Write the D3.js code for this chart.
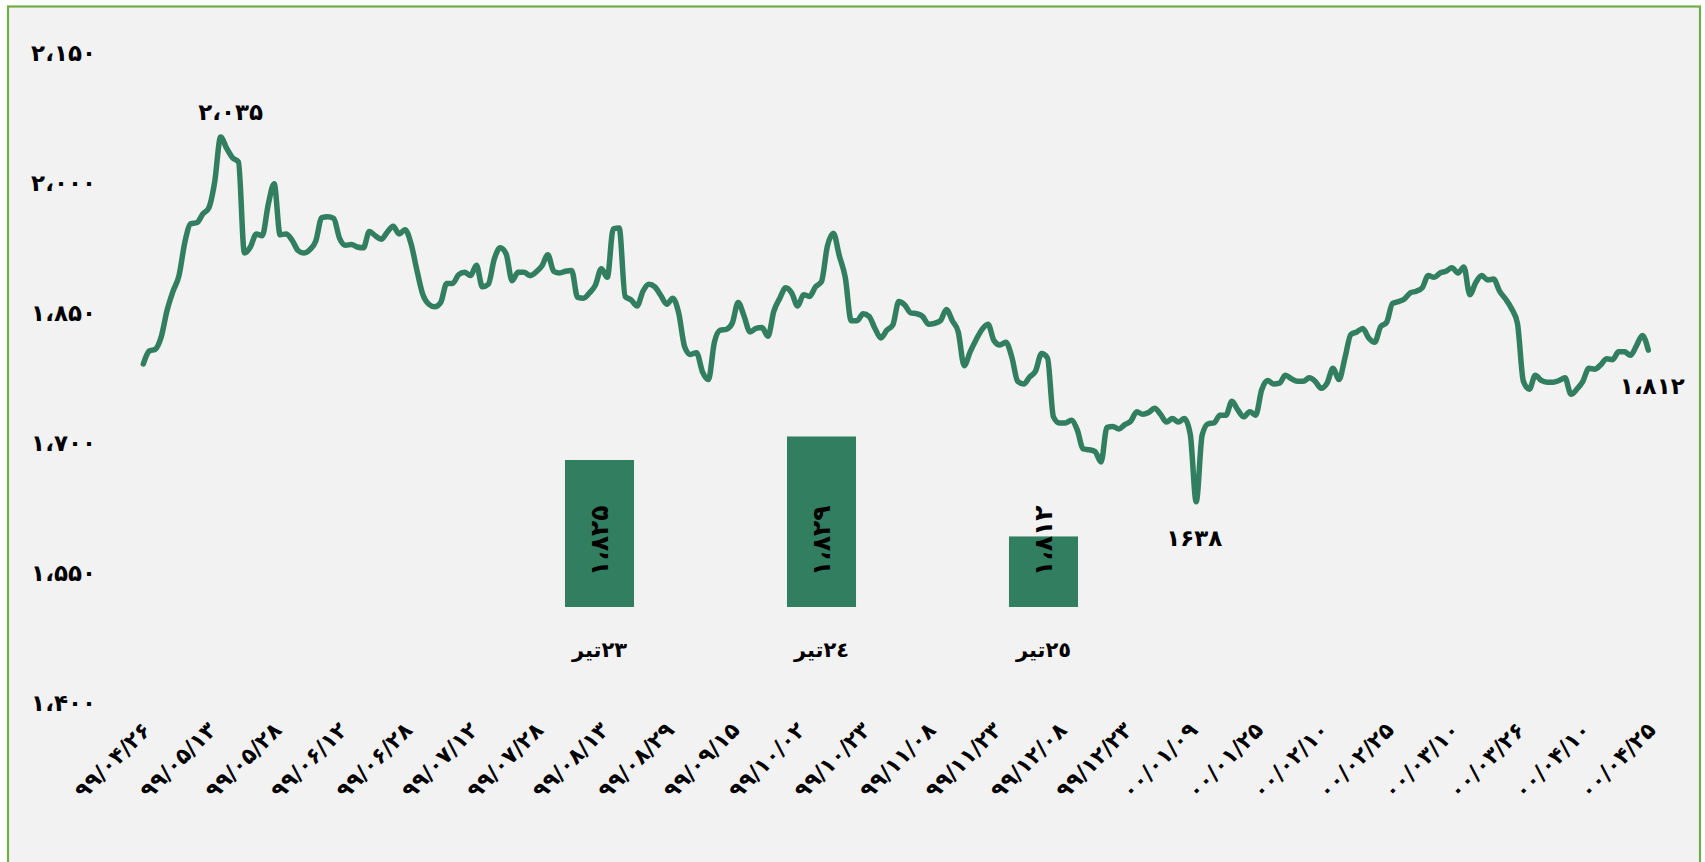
<!DOCTYPE html>
<html><head><meta charset="utf-8">
<script src="https://cdn.jsdelivr.net/npm/d3@7/dist/d3.min.js"></script>
<style>
html,body{margin:0;padding:0;background:#ffffff;}
svg{display:block;font-family:"DejaVu Sans",sans-serif;}
</style></head><body>
<svg id="chart" width="1705" height="862"></svg>
<script>
// daily index value (trading days)
const prices = [
1790,1805,1807,1821,1852,1874,1892,1931,1952,1953,1963,1970,2000,2052,2039,2028,2023,1918,1925,1940,
1938,1974,1998,1939,1940,1933,1921,1918,1922,1932,1959,1960,1958,1935,1927,1928,1925,1924,1943,1938,
1934,1942,1949,1940,1945,1929,1898,1870,1859,1856,1861,1883,1883,1893,1896,1892,1904,1879,1882,1911,
1924,1917,1886,1896,1896,1892,1896,1903,1916,1897,1895,1897,1898,1867,1866,1872,1881,1900,1890,1946,
1947,1868,1864,1857,1874,1882,1879,1869,1859,1866,1849,1810,1801,1803,1781,1772,1815,1829,1830,1837,
1861,1845,1827,1831,1832,1822,1851,1866,1878,1872,1857,1870,1868,1879,1885,1926,1941,1915,1890,1840,
1840,1848,1845,1831,1820,1829,1835,1862,1858,1849,1848,1845,1836,1837,1840,1853,1840,1827,1788,1804,
1818,1830,1836,1817,1812,1815,1798,1770,1767,1775,1782,1802,1797,1729,1722,1722,1725,1714,1692,1691,
1689,1677,1717,1718,1715,1720,1724,1735,1732,1734,1739,1732,1723,1727,1723,1727,1709,1631,1708,1721,
1722,1731,1731,1747,1737,1729,1735,1731,1760,1771,1767,1768,1777,1773,1770,1770,1774,1770,1762,1768,
1785,1772,1797,1824,1827,1831,1820,1815,1833,1838,1860,1862,1865,1872,1874,1878,1892,1890,1895,1897,
1901,1895,1902,1870,1884,1892,1887,1888,1874,1865,1854,1837,1770,1761,1777,1771,1769,1769,1771,1774,
1755,1761,1770,1785,1784,1789,1796,1795,1804,1804,1800,1811,1823,1806
];
const tickStep = 11;
const dateLabels = [
"۹۹/۰۴/۲۶","۹۹/۰۵/۱۳","۹۹/۰۵/۲۸","۹۹/۰۶/۱۲","۹۹/۰۶/۲۸","۹۹/۰۷/۱۲","۹۹/۰۷/۲۸","۹۹/۰۸/۱۳",
"۹۹/۰۸/۲۹","۹۹/۰۹/۱۵","۹۹/۱۰/۰۲","۹۹/۱۰/۲۳","۹۹/۱۱/۰۸","۹۹/۱۱/۲۳","۹۹/۱۲/۰۸","۹۹/۱۲/۲۳",
"۰۰/۰۱/۰۹","۰۰/۰۱/۲۵","۰۰/۰۲/۱۰","۰۰/۰۲/۲۵","۰۰/۰۳/۱۰","۰۰/۰۳/۲۶","۰۰/۰۴/۱۰","۰۰/۰۴/۲۵"
];
const yTicks = [1400, 1550, 1700, 1850, 2000, 2150];
// inset bars
const barCategories = ["٢٣تیر", "٢٤تیر", "٢٥تیر"];
const barValues = [1825, 1829, 1812];
const barBase = 1800;
// annotations: trading-day index and the label shown
const annDays = [13, 177, 253];
const annTexts = ["۲،۰۳۵", "۱۶۳۸", "۱،۸۱۲"];

const fa = s => String(s).replace(/\d/g, d => "۰۱۲۳۴۵۶۷۸۹"[+d]).replace(/,/g, "،");
const fmt = v => fa(d3.format(",")(v));

const COLOR = "#327E61";
const svg = d3.select("#chart");

// frame
svg.append("rect").attr("x", 8).attr("y", 6.5).attr("width", 1692).attr("height", 900)
  .attr("fill", "#F2F2F2").attr("stroke", "#70AD47").attr("stroke-width", 2.2);

const x = d3.scaleLinear().domain([0, prices.length - 1]).range([143.3, 1648.3]);
const y = d3.scaleLinear().domain([1400, 2150]).range([702, 52]);

// y axis
const gy = svg.append("g").attr("transform", "translate(96,0)")
  .call(d3.axisLeft(y).tickValues(yTicks).tickSize(0).tickPadding(0).tickFormat(fmt));
gy.select(".domain").remove();
gy.selectAll("text").attr("font-size", 23).attr("font-weight", "bold")
  .attr("letter-spacing", 3)
  .attr("font-family", "DejaVu Sans").attr("fill", "#000").attr("dy", "0.35em");

// x axis
const gx = svg.append("g").attr("transform", "translate(0,729)")
  .call(d3.axisBottom(x).tickValues(d3.range(0, prices.length, tickStep)).tickSize(0)
    .tickFormat((d, i) => dateLabels[i]));
gx.select(".domain").remove();
gx.selectAll("text").attr("font-size", 22).attr("font-weight", "bold")
  .attr("letter-spacing", 5.5)
  .attr("font-family", "DejaVu Sans").attr("fill", "#000")
  .attr("text-anchor", "end").attr("x", 4).attr("y", 0).attr("dy", "0.35em")
  .attr("transform", "rotate(-45)");

// line
const line = d3.line().x((d, i) => x(i)).y(d => y(d)).curve(d3.curveMonotoneX);
svg.append("path").datum(prices).attr("d", line).attr("fill", "none")
  .attr("stroke", COLOR).attr("stroke-width", 5.5)
  .attr("stroke-linejoin", "round").attr("stroke-linecap", "round");

// annotations
const annOffset = [-25, 36, 36];
const annDx = [10, -2, 4];
svg.append("g").selectAll("text").data(annDays).join("text")
  .attr("x", (d, i) => x(d) + annDx[i]).attr("y", (d, i) => y(prices[d]) + annOffset[i])
  .attr("text-anchor", "middle").attr("dy", "0.35em")
  .attr("font-size", 23).attr("font-weight", "bold").attr("fill", "#000")
  .attr("letter-spacing", 2)
  .text((d, i) => annTexts[i]);

// inset bars
const xb = d3.scaleBand().domain(barCategories).range([488.5, 1154.5])
  .paddingInner(0.689).paddingOuter(0.3445);
const yb = d3.scaleLinear().domain([barBase, 1830]).range([607, 430.6]);
const gb = svg.append("g");
gb.selectAll("rect").data(barValues).join("rect")
  .attr("x", (d, i) => xb(barCategories[i])).attr("width", xb.bandwidth())
  .attr("y", d => yb(d)).attr("height", d => yb(barBase) - yb(d))
  .attr("fill", COLOR);
gb.selectAll("text.val").data(barValues).join("text").attr("class", "val")
  .attr("transform", (d, i) => `translate(${xb(barCategories[i]) + xb.bandwidth() / 2},${yb(barBase) - 31}) rotate(-90)`)
  .attr("text-anchor", "start").attr("dy", "0.35em")
  .attr("font-size", 25).attr("font-weight", "bold").attr("fill", "#000")
  .attr("letter-spacing", 1)
  .text(d => fmt(d));
gb.selectAll("text.cat").data(barCategories).join("text").attr("class", "cat")
  .attr("x", d => xb(d) + xb.bandwidth() / 2).attr("y", 650)
  .attr("direction", "rtl").attr("text-anchor", "middle").attr("dy", "0.35em")
  .attr("font-size", 21).attr("font-weight", "bold").attr("fill", "#000")
  .text(d => d);
</script>
</body></html>
